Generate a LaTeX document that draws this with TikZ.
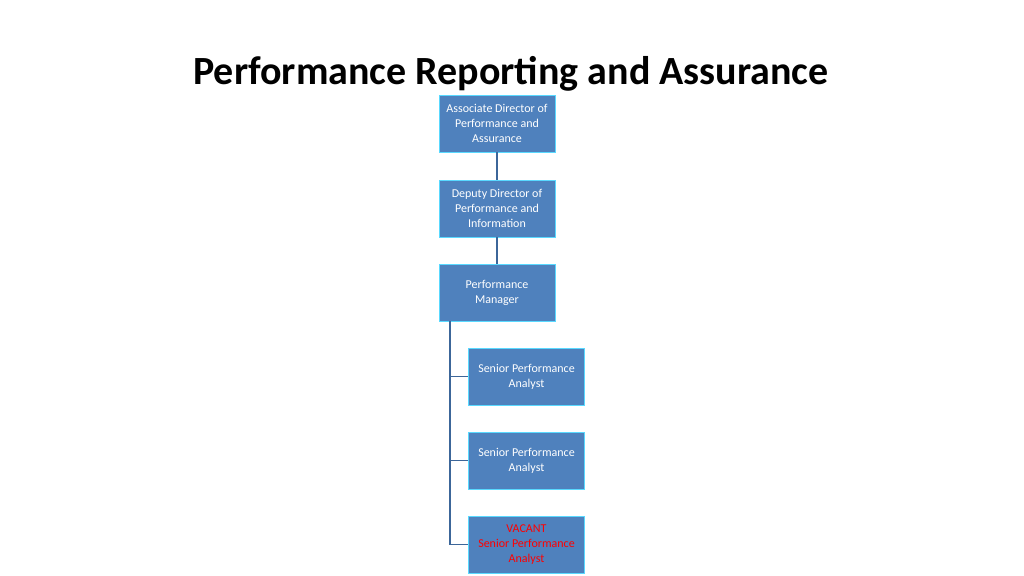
\documentclass[tikz,border=0pt]{standalone}
\usepackage{fontspec}
\setmainfont{Carlito}
\begin{document}
\begin{tikzpicture}[x=1pt,y=-1pt,
 box/.style={draw=white!70!blue!50!cyan,line width=0.6pt,fill=boxblue,text=white,minimum width=116pt,minimum height=57pt,align=center,font=\fontsize{12}{15}\selectfont,inner sep=1pt},
 conn/.style={draw=boxline,line width=1.5pt}]
\definecolor{boxblue}{HTML}{4F81BD}
\definecolor{boxline}{HTML}{3C6699}
\useasboundingbox (0,0) rectangle (1024,575);
\fill[white] (0,0) rectangle (1024,575);
\node[font=\fontsize{40}{48}\selectfont\bfseries] (title) at (511,74) {Performance Reporting and Assurance};
\node[box] (a) at (497,123.5) {Associate Director of\\Performance and\\Assurance};
\node[box] (b) at (497,208.5) {Deputy Director of\\Performance and\\Information};
\node[box] (c) at (497,292.5) {Performance\\Manager};
\node[box] (s1) at (526.5,376.5) {Senior Performance\\Analyst};
\node[box] (s2) at (526.5,460.5) {Senior Performance\\Analyst};
\node[box,text=red] (s3) at (526.5,544.5) {VACANT\\Senior Performance\\Analyst};
\draw[conn] (a) -- (b);
\draw[conn] (b) -- (c);
\coordinate (t) at (450,321);
\draw[conn] (t) |- (s1.west);
\draw[conn] (t) |- (s2.west);
\draw[conn] (t) |- (s3.west);
\end{tikzpicture}
\end{document}
